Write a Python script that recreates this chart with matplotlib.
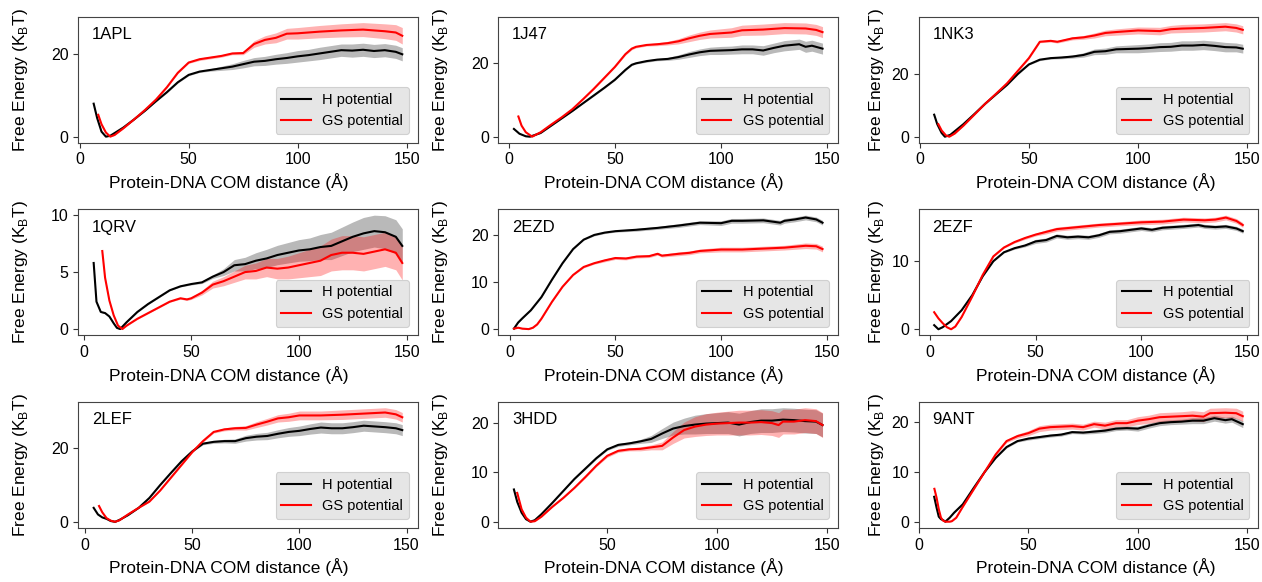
import matplotlib
matplotlib.use("Agg")
import matplotlib.pyplot as plt
import numpy as np

plt.rcParams["font.family"] = ["Liberation Sans", "DejaVu Sans"]

# Free energy profiles per complex: (distance in Å, free energy in kT, error)
H_1APL = [(6.4, 8.0, 0.1), (8, 4.5, 0.1), (10, 1.2, 0.1), (12, 0.0, 0.1), (14, 0.2, 0.1),
          (20, 2.2, 0.1), (25, 4.2, 0.1), (30, 6.3, 0.1), (35, 8.6, 0.1), (40, 10.8, 0.2),
          (45, 13.2, 0.2), (50, 15.0, 0.2), (55, 15.8, 0.2), (60, 16.2, 0.3), (65, 16.6, 0.5),
          (70, 17.0, 0.7), (75, 17.6, 0.9), (80, 18.2, 1.0), (85, 18.4, 1.1), (90, 18.8, 1.2),
          (95, 19.1, 1.3), (100, 19.5, 1.4), (105, 19.8, 1.4), (110, 20.2, 1.5), (115, 20.6, 1.5),
          (120, 21.0, 1.5), (125, 20.9, 1.6), (130, 21.1, 1.6), (135, 20.8, 1.6), (140, 21.0, 1.6),
          (145, 20.6, 1.6), (148, 20.0, 1.6)]
GS_1APL = [(8.5, 5.3, 0.1), (10, 3.0, 0.1), (12, 1.0, 0.1), (14, 0.0, 0.1), (16, 0.4, 0.1),
           (20, 2.0, 0.1), (25, 4.2, 0.1), (30, 6.5, 0.1), (35, 9.0, 0.1), (40, 12.0, 0.2),
           (45, 15.5, 0.2), (50, 18.0, 0.2), (55, 18.8, 0.3), (60, 19.2, 0.3), (65, 19.6, 0.3),
           (70, 20.2, 0.3), (75, 20.3, 0.4), (80, 22.5, 0.8), (85, 23.5, 1.0), (90, 24.0, 1.2),
           (95, 25.0, 1.3), (100, 25.1, 1.4), (110, 25.5, 1.5), (120, 25.8, 1.6), (130, 26.0, 1.7),
           (140, 25.6, 1.8), (145, 25.3, 1.9), (148, 24.5, 2.0)]

H_1J47 = [(2.4, 2.1, 0.1), (5, 0.8, 0.1), (8, 0.1, 0.1), (10, 0.0, 0.1), (15, 1.0, 0.1),
          (20, 3.0, 0.1), (25, 5.0, 0.1), (30, 7.0, 0.1), (35, 9.1, 0.1), (40, 11.2, 0.2),
          (45, 13.3, 0.2), (50, 15.5, 0.2), (55, 18.2, 0.2), (58, 19.6, 0.2), (60, 20.0, 0.2),
          (65, 20.6, 0.3), (70, 21.0, 0.3), (75, 21.2, 0.4), (80, 21.7, 0.6), (85, 22.4, 0.8),
          (90, 23.0, 0.9), (95, 23.4, 1.0), (100, 23.5, 1.1), (105, 23.6, 1.1), (110, 23.8, 1.2),
          (115, 23.8, 1.2), (120, 23.5, 1.3), (125, 24.2, 1.3), (130, 24.8, 1.4), (137, 25.2, 1.4),
          (140, 24.5, 1.5), (143, 24.8, 1.5), (148, 24.0, 1.5)]
GS_1J47 = [(4.5, 5.5, 0.1), (6, 3.0, 0.1), (8, 1.2, 0.1), (11, 0.0, 0.1), (15, 1.2, 0.1),
           (20, 3.3, 0.1), (25, 5.3, 0.1), (30, 7.5, 0.1), (35, 10.2, 0.1), (40, 13.0, 0.2),
           (45, 16.0, 0.2), (50, 19.0, 0.2), (55, 22.5, 0.3), (58, 24.0, 0.3), (60, 24.5, 0.3),
           (65, 25.0, 0.3), (70, 25.2, 0.4), (75, 25.5, 0.5), (80, 26.0, 0.7), (85, 26.8, 0.9),
           (90, 27.5, 1.0), (95, 28.0, 1.1), (100, 28.2, 1.2), (105, 28.4, 1.3), (110, 29.0, 1.4),
           (120, 29.2, 1.5), (130, 29.6, 1.5), (140, 29.5, 1.5), (145, 29.1, 1.5), (148, 28.5, 1.5)]

H_1NK3 = [(6.6, 7.0, 0.1), (8, 4.0, 0.1), (10, 1.2, 0.1), (11.5, 0.0, 0.1), (14, 0.6, 0.1),
          (20, 4.0, 0.1), (25, 7.2, 0.1), (30, 10.5, 0.1), (35, 13.5, 0.1), (40, 16.5, 0.2),
          (45, 20.0, 0.2), (50, 23.0, 0.2), (55, 24.5, 0.3), (60, 25.0, 0.3), (65, 25.2, 0.4),
          (70, 25.5, 0.5), (75, 26.0, 0.7), (80, 27.0, 0.9), (85, 27.2, 1.0), (90, 27.8, 1.1),
          (95, 27.9, 1.2), (100, 28.0, 1.3), (105, 28.2, 1.3), (110, 28.5, 1.4), (115, 28.6, 1.4),
          (120, 29.0, 1.5), (125, 29.0, 1.5), (130, 29.2, 1.5), (135, 28.9, 1.5), (140, 28.5, 1.5),
          (145, 28.4, 1.4), (148, 28.0, 1.4)]
GS_1NK3 = [(8.5, 4.0, 0.1), (10, 2.0, 0.1), (12, 0.4, 0.1), (13.5, 0.0, 0.1), (16, 1.0, 0.1),
           (20, 3.5, 0.1), (25, 7.0, 0.1), (30, 10.5, 0.1), (35, 13.7, 0.1), (40, 17.0, 0.2),
           (45, 21.0, 0.2), (50, 25.0, 0.3), (55, 30.2, 0.3), (60, 30.5, 0.4), (63, 30.2, 0.4),
           (70, 31.3, 0.5), (75, 31.6, 0.6), (80, 32.2, 0.8), (85, 33.0, 0.9), (90, 33.3, 1.0),
           (100, 33.8, 1.1), (110, 33.6, 1.2), (115, 34.2, 1.2), (120, 34.4, 1.3), (130, 34.6, 1.3),
           (140, 35.0, 1.3), (145, 34.6, 1.3), (148, 34.0, 1.3)]

H_1QRV = [(4.7, 5.8, 0.05), (6, 2.4, 0.05), (8, 1.5, 0.05), (10, 1.4, 0.05), (12, 1.1, 0.05),
          (14, 0.5, 0.05), (15.5, 0.1, 0.05), (17, 0.0, 0.05), (20, 0.6, 0.05), (25, 1.5, 0.05),
          (30, 2.2, 0.05), (35, 2.8, 0.05), (40, 3.4, 0.05), (45, 3.75, 0.05), (50, 3.95, 0.08),
          (55, 4.1, 0.1), (60, 4.6, 0.15), (65, 5.0, 0.3), (70, 5.6, 0.5), (75, 5.7, 0.6),
          (80, 6.0, 0.7), (85, 6.2, 0.8), (90, 6.5, 0.85), (95, 6.7, 0.9), (100, 6.9, 0.95),
          (105, 7.0, 1.0), (110, 7.2, 1.1), (115, 7.3, 1.2), (120, 7.7, 1.25), (125, 8.1, 1.3),
          (130, 8.4, 1.4), (135, 8.6, 1.4), (140, 8.5, 1.45), (145, 8.1, 1.5), (148, 7.3, 1.5)]
GS_1QRV = [(8.7, 6.85, 0.05), (10, 4.5, 0.05), (12, 2.5, 0.05), (14, 1.2, 0.05), (16, 0.3, 0.05),
           (18, 0.0, 0.05), (20, 0.3, 0.05), (25, 0.9, 0.05), (30, 1.4, 0.05), (35, 1.9, 0.05),
           (40, 2.4, 0.05), (45, 2.7, 0.08), (48, 2.6, 0.1), (50, 2.7, 0.1), (55, 3.2, 0.2),
           (60, 3.9, 0.3), (65, 4.2, 0.4), (70, 4.6, 0.5), (75, 5.0, 0.6), (80, 5.1, 0.7),
           (85, 5.4, 0.8), (90, 5.3, 0.9), (95, 5.4, 1.0), (100, 5.6, 1.1), (105, 5.8, 1.2),
           (110, 6.0, 1.3), (115, 6.5, 1.4), (120, 6.7, 1.5), (125, 6.7, 1.5), (130, 6.6, 1.5),
           (135, 6.8, 1.5), (140, 7.0, 1.5), (145, 6.7, 1.5), (148, 5.8, 1.5)]

H_2EZD = [(2, 0.1, 0.1), (4, 1.4, 0.1), (6, 2.3, 0.1), (10, 4.0, 0.1), (15, 6.8, 0.1),
          (20, 10.5, 0.1), (25, 14.0, 0.1), (30, 17.0, 0.1), (35, 19.0, 0.1), (40, 20.0, 0.2),
          (45, 20.5, 0.2), (50, 20.8, 0.2), (60, 21.1, 0.3), (70, 21.5, 0.3), (80, 22.0, 0.4),
          (90, 22.6, 0.4), (100, 22.5, 0.5), (105, 23.0, 0.5), (110, 23.0, 0.5), (120, 23.1, 0.5),
          (128, 22.6, 0.5), (130, 23.0, 0.5), (135, 23.3, 0.5), (140, 23.7, 0.5), (145, 23.3, 0.5),
          (148, 22.6, 0.5)]
GS_2EZD = [(2, 0.1, 0.1), (4, 0.3, 0.1), (6, 0.1, 0.1), (9, 0.0, 0.1), (11, 0.3, 0.1),
           (13, 1.0, 0.1), (15, 2.2, 0.1), (20, 5.8, 0.1), (25, 9.0, 0.1), (30, 11.5, 0.1),
           (35, 13.2, 0.2), (40, 14.0, 0.2), (45, 14.6, 0.3), (50, 15.1, 0.3), (55, 15.0, 0.3),
           (60, 15.4, 0.3), (66, 15.5, 0.3), (70, 16.0, 0.3), (72, 15.6, 0.3), (80, 16.0, 0.4),
           (85, 16.2, 0.4), (90, 16.6, 0.4), (100, 16.9, 0.5), (110, 16.9, 0.5), (120, 17.1, 0.5),
           (130, 17.3, 0.5), (140, 17.7, 0.6), (145, 17.6, 0.6), (148, 17.0, 0.6)]

H_2EZF = [(2, 0.6, 0.05), (4, 0.0, 0.05), (6, 0.3, 0.05), (10, 1.2, 0.05), (15, 2.8, 0.05),
          (20, 5.0, 0.05), (25, 7.8, 0.1), (30, 10.0, 0.1), (35, 11.3, 0.1), (40, 11.9, 0.15),
          (45, 12.3, 0.2), (50, 12.9, 0.3), (55, 13.1, 0.3), (60, 13.7, 0.3), (65, 13.5, 0.3),
          (70, 13.6, 0.3), (75, 13.5, 0.3), (80, 13.8, 0.3), (85, 14.3, 0.3), (90, 14.4, 0.3),
          (95, 14.6, 0.3), (100, 14.8, 0.3), (105, 14.6, 0.3), (110, 14.9, 0.3), (120, 15.1, 0.3),
          (127, 15.3, 0.3), (130, 15.1, 0.3), (135, 15.0, 0.3), (140, 15.1, 0.3), (145, 14.8, 0.3),
          (148, 14.4, 0.3)]
GS_2EZF = [(2, 2.5, 0.05), (4, 1.6, 0.05), (6, 0.9, 0.05), (8, 0.3, 0.05), (10, 0.0, 0.05),
           (12, 0.4, 0.05), (15, 1.8, 0.05), (20, 4.8, 0.05), (25, 8.0, 0.1), (30, 10.7, 0.1),
           (35, 12.0, 0.1), (40, 12.8, 0.15), (45, 13.4, 0.2), (50, 13.9, 0.2), (55, 14.3, 0.3),
           (60, 14.7, 0.3), (70, 15.0, 0.3), (80, 15.3, 0.3), (90, 15.5, 0.3), (100, 15.7, 0.35),
           (110, 15.8, 0.35), (120, 16.1, 0.35), (130, 16.0, 0.35), (135, 16.1, 0.35),
           (140, 16.4, 0.35), (145, 15.9, 0.35), (148, 15.3, 0.35)]

H_2LEF = [(4, 3.8, 0.1), (6, 2.0, 0.1), (8, 1.2, 0.1), (10, 0.8, 0.1), (12, 0.2, 0.1),
          (14, 0.0, 0.1), (16, 0.5, 0.1), (20, 1.8, 0.1), (25, 3.8, 0.1), (30, 6.5, 0.1),
          (35, 10.0, 0.1), (40, 13.3, 0.2), (45, 16.5, 0.2), (50, 19.2, 0.2), (55, 21.3, 0.3),
          (60, 21.8, 0.4), (65, 22.0, 0.5), (70, 22.0, 0.6), (75, 22.8, 0.8), (80, 23.2, 0.9),
          (85, 23.4, 1.0), (90, 24.0, 1.1), (95, 24.5, 1.2), (100, 24.8, 1.3), (105, 25.3, 1.4),
          (110, 25.7, 1.5), (115, 25.5, 1.5), (120, 25.5, 1.5), (125, 25.8, 1.5), (130, 26.2, 1.5),
          (135, 26.0, 1.5), (140, 25.8, 1.5), (145, 25.5, 1.5), (148, 25.0, 1.5)]
GS_2LEF = [(6.5, 4.3, 0.1), (8, 2.6, 0.1), (10, 1.0, 0.1), (12, 0.3, 0.1), (14, 0.0, 0.1),
           (16, 0.4, 0.1), (20, 2.0, 0.1), (25, 3.8, 0.1), (30, 5.5, 0.1), (35, 8.5, 0.1),
           (40, 12.0, 0.2), (45, 15.5, 0.2), (50, 19.0, 0.2), (55, 22.0, 0.3), (60, 24.5, 0.3),
           (65, 25.2, 0.4), (70, 25.5, 0.5), (75, 25.6, 0.6), (80, 26.5, 0.8), (85, 27.3, 0.9),
           (90, 28.2, 1.0), (95, 28.5, 1.1), (100, 29.0, 1.2), (110, 29.0, 1.2), (120, 29.2, 1.3),
           (130, 29.5, 1.3), (140, 29.8, 1.3), (145, 29.3, 1.3), (148, 28.5, 1.3)]

H_3HDD = [(7.5, 6.5, 0.1), (9, 4.0, 0.1), (11, 1.8, 0.1), (13, 0.5, 0.1), (15, 0.0, 0.1),
          (17, 0.3, 0.1), (20, 1.5, 0.1), (25, 3.8, 0.1), (30, 6.2, 0.1), (35, 8.6, 0.1),
          (40, 10.7, 0.2), (45, 12.8, 0.2), (50, 14.6, 0.2), (55, 15.5, 0.3), (60, 15.8, 0.3),
          (65, 16.2, 0.4), (70, 16.7, 0.7), (75, 17.8, 1.0), (80, 18.8, 1.3), (85, 19.3, 1.6),
          (90, 19.6, 1.9), (95, 19.8, 2.0), (100, 19.9, 2.1), (105, 20.0, 2.2), (110, 19.6, 2.3),
          (115, 20.1, 2.3), (120, 20.4, 2.4), (125, 20.4, 2.4), (130, 20.6, 2.4), (135, 20.5, 2.4),
          (140, 20.3, 2.4), (145, 20.2, 2.4), (148, 19.5, 2.4)]
GS_3HDD = [(9, 5.8, 0.1), (11, 2.5, 0.1), (13, 0.8, 0.1), (15, 0.0, 0.1), (17, 0.1, 0.1),
           (20, 1.0, 0.1), (25, 3.0, 0.1), (30, 4.8, 0.1), (35, 6.8, 0.1), (40, 9.0, 0.2),
           (45, 11.3, 0.2), (50, 13.3, 0.3), (55, 14.3, 0.3), (60, 14.6, 0.3), (65, 14.7, 0.4),
           (70, 15.0, 0.5), (75, 15.3, 0.8), (80, 17.0, 1.2), (85, 18.5, 1.6), (90, 19.2, 2.0),
           (95, 19.6, 2.2), (100, 19.8, 2.3), (105, 19.9, 2.4), (110, 20.0, 2.5), (115, 20.0, 2.5),
           (120, 20.1, 2.5), (125, 19.9, 2.5), (128, 19.5, 2.5), (130, 20.2, 2.5), (135, 20.2, 2.5),
           (140, 20.5, 2.5), (145, 20.3, 2.5), (148, 19.5, 2.5)]

H_9ANT = [(6.9, 5.0, 0.1), (8, 2.8, 0.1), (9, 1.0, 0.1), (10, 0.5, 0.1), (11, 0.3, 0.1),
          (12, 0.0, 0.1), (14, 0.8, 0.1), (16, 1.8, 0.1), (20, 3.5, 0.1), (25, 6.8, 0.1),
          (30, 10.0, 0.1), (35, 12.8, 0.1), (40, 15.0, 0.2), (45, 16.2, 0.2), (50, 16.7, 0.3),
          (55, 17.0, 0.3), (60, 17.3, 0.3), (65, 17.5, 0.3), (70, 18.0, 0.3), (75, 17.9, 0.3),
          (80, 18.1, 0.4), (85, 18.3, 0.4), (90, 18.7, 0.4), (95, 18.8, 0.4), (100, 18.7, 0.5),
          (105, 19.3, 0.5), (110, 19.8, 0.5), (115, 20.0, 0.5), (120, 20.1, 0.5), (125, 20.3, 0.6),
          (130, 20.3, 0.6), (135, 20.8, 0.6), (140, 20.4, 0.6), (143, 20.6, 0.6), (148, 19.6, 0.7)]
GS_9ANT = [(7, 6.6, 0.1), (8, 4.8, 0.1), (9, 2.5, 0.1), (10, 0.8, 0.1), (11, 0.2, 0.1),
           (12, 0.0, 0.1), (14, 0.0, 0.1), (15, 0.1, 0.1), (17, 0.8, 0.1), (20, 3.0, 0.1),
           (25, 6.5, 0.1), (30, 10.0, 0.1), (35, 13.5, 0.2), (40, 16.2, 0.3), (45, 17.2, 0.4),
           (50, 17.8, 0.5), (55, 18.7, 0.6), (60, 19.0, 0.6), (70, 19.2, 0.6), (75, 19.0, 0.6),
           (80, 19.6, 0.6), (85, 19.3, 0.7), (90, 19.8, 0.7), (95, 19.8, 0.7), (100, 20.3, 0.8),
           (105, 20.6, 0.8), (110, 21.0, 0.9), (115, 21.1, 0.9), (120, 21.2, 0.9), (125, 21.3, 1.0),
           (130, 21.1, 1.0), (133, 21.8, 1.0), (140, 21.9, 1.0), (145, 21.8, 1.0), (148, 21.2, 1.0)]

NAMES = ["1APL", "1J47", "1NK3", "1QRV", "2EZD", "2EZF", "2LEF", "3HDD", "9ANT"]
H_DATA = [H_1APL, H_1J47, H_1NK3, H_1QRV, H_2EZD, H_2EZF, H_2LEF, H_3HDD, H_9ANT]
GS_DATA = [GS_1APL, GS_1J47, GS_1NK3, GS_1QRV, GS_2EZD, GS_2EZF, GS_2LEF, GS_3HDD, GS_9ANT]

# per-column label placement (x label centre, y label pad)
XLABEL_X = [0.444, 0.487, 0.522]
YLABEL_PAD = [15, 15, 4]


fig, axes = plt.subplots(3, 3, figsize=(12.62, 5.82), dpi=100)
fig.subplots_adjust(left=0.062, right=0.997, top=0.971, bottom=0.093, wspace=0.238, hspace=0.53)

for i, (ax, name, h, gs) in enumerate(zip(axes.flat, NAMES, H_DATA, GS_DATA)):
    col = i % 3
    h = np.array(h)
    gs = np.array(gs)
    ax.fill_between(h[:, 0], h[:, 1] - h[:, 2], h[:, 1] + h[:, 2],
                    color="gray", alpha=0.55, linewidth=0)
    ax.fill_between(gs[:, 0], gs[:, 1] - gs[:, 2], gs[:, 1] + gs[:, 2],
                    color="red", alpha=0.3, linewidth=0)
    ax.plot(h[:, 0], h[:, 1], color="black", linewidth=1.5, label="H potential")
    ax.plot(gs[:, 0], gs[:, 1], color="red", linewidth=1.5, label="GS potential")

    ax.text(0.04, 0.86, name, transform=ax.transAxes, fontsize=12, va="center")
    ax.set_xlabel("Protein-DNA COM distance (Å)", fontsize=12.5)
    ax.xaxis.label.set_x(XLABEL_X[col])
    ax.set_ylabel(r"Free Energy (K$_\mathregular{B}$T)", fontsize=12.5,
                  labelpad=YLABEL_PAD[col])
    ax.locator_params(axis="x", nbins=4)
    ax.locator_params(axis="y", nbins=3)
    ax.tick_params(labelsize=11.5, color="#333333")
    for sp in ax.spines.values():
        sp.set_color("#444444")

    leg = ax.legend(loc="lower right", fontsize=10.5, facecolor="#e6e6e6",
                    edgecolor="#d0d0d0", framealpha=1.0, borderaxespad=0.6)
    leg.get_frame().set_linewidth(0.8)

fig.savefig("out.png", dpi=100)
plt.close(fig)
